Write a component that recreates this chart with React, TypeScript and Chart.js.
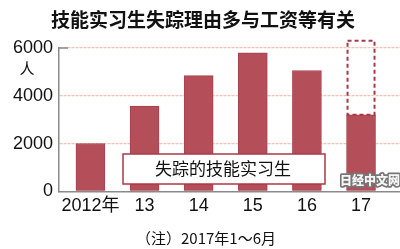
import React, { useEffect, useRef } from "react";
import { Chart, registerables } from "chart.js";

Chart.register(...registerables);

const title = "技能实习生失踪理由多与工资等有关";
const xLabels = ["2012年", "13", "14", "15", "16", "17"];
const missing = [2005, 3566, 4847, 5803, 5058, 3205];
const projectedTop = [null, null, null, null, null, 6300];
const yTicks = [0, 2000, 4000, 6000];
const unitLabel = "人";
const legendLabel = "失踪的技能实习生";
const footnote = "（注）2017年1～6月";
const watermark = "日经中文网";

const BAR = "#b44e58";
const DARK_RED = "#a83a48";
const AXIS = "#8a8a8a";
const GRID = "#eec4b4";

const overlay = {
  id: "overlay",
  afterDraw(chart: any) {
    const ctx = chart.ctx;
    const y = chart.scales.y;
    const area = chart.chartArea;
    ctx.save();
    ctx.fillStyle = "#111";
    ctx.font = "bold 19px 'Noto Sans CJK SC'";
    ctx.textAlign = "center";
    ctx.textBaseline = "middle";
    ctx.fillText(title, 203, 20);
    ctx.font = "15px 'Noto Sans CJK SC'";
    ctx.fillText(unitLabel, 27, 68);
    ctx.strokeStyle = AXIS;
    ctx.lineWidth = 1.5;
    ctx.beginPath();
    ctx.moveTo(area.left, y.getPixelForValue(yTicks[yTicks.length - 1]));
    ctx.lineTo(area.left + 9, y.getPixelForValue(yTicks[yTicks.length - 1]));
    ctx.stroke();
    ctx.strokeStyle = DARK_RED;
    ctx.lineWidth = 2;
    ctx.setLineDash([4, 3]);
    const meta = chart.getDatasetMeta(0);
    projectedTop.forEach((v, i) => {
      if (v == null) return;
      const bar = meta.data[i];
      const half = bar.width / 2;
      const top = y.getPixelForValue(v);
      const bottom = y.getPixelForValue(missing[i]);
      ctx.strokeRect(bar.x - half + 1, top, bar.width - 2, bottom - top);
    });
    ctx.setLineDash([]);
    ctx.fillStyle = "#fff";
    ctx.fillRect(123, 154, 202, 30);
    ctx.strokeStyle = DARK_RED;
    ctx.lineWidth = 1.5;
    ctx.strokeRect(123, 154, 202, 30);
    ctx.fillStyle = "#111";
    ctx.font = "17px 'Noto Sans CJK SC'";
    ctx.fillText(legendLabel, 223, 169);
    ctx.font = "900 12px 'Noto Sans CJK SC'";
    ctx.lineJoin = "round";
    ctx.lineWidth = 3.5;
    ctx.strokeStyle = "#777";
    ctx.strokeText(watermark, 370, 180);
    ctx.fillStyle = "#f6f6f6";
    ctx.fillText(watermark, 370, 180);
    ctx.fillStyle = "#111";
    ctx.font = "15px 'Noto Sans CJK SC'";
    ctx.fillText(footnote, 206, 238);
    ctx.restore();
  },
};

export default function App() {
  const ref = useRef<HTMLCanvasElement>(null);
  useEffect(() => {
    document.body.style.margin = "0";
    const chart = new Chart(ref.current!, {
      type: "bar",
      data: {
        datasets: [
          {
            data: missing.map((v, i) => ({ x: i, y: v })),
            backgroundColor: BAR,
            borderColor: "#a6434e",
            borderWidth: 1,
            barThickness: 29,
          },
        ],
      },
      options: {
        responsive: false,
        animation: false,
        devicePixelRatio: 1,
        layout: { padding: { left: 7, top: 48, right: 0, bottom: 28 } },
        plugins: { legend: { display: false }, tooltip: { enabled: false } },
        scales: {
          x: {
            type: "linear",
            offset: false,
            min: -0.58,
            max: 5.72,
            afterBuildTicks: (axis: any) => {
              axis.ticks = xLabels.map((_, i) => ({ value: i }));
            },
            ticks: {
              autoSkip: false,
              maxRotation: 0,
              padding: 4,
              color: "#111",
              font: { family: "'Liberation Sans', 'Noto Sans CJK SC'", size: 18 },
              callback: (v: any) => xLabels[v as number],
            },
            grid: { display: false, drawTicks: false },
            border: { display: true, color: AXIS, width: 1.5 },
          },
          y: {
            min: 0,
            max: 6000,
            afterBuildTicks: (axis: any) => {
              axis.ticks = yTicks.map((v) => ({ value: v }));
            },
            ticks: {
              padding: 6,
              color: "#111",
              font: { family: "'Liberation Sans'", size: 18 },
              callback: (v: any) => String(v),
            },
            grid: {
              drawTicks: false,
              color: (c: any) => (c.tick && c.tick.value === 0 ? "rgba(0,0,0,0)" : GRID),
              lineWidth: 1.2,
            },
            border: { display: true, color: AXIS, width: 1.5, dash: [3, 1] },
          },
        },
      },
      plugins: [overlay],
    });
    return () => chart.destroy();
  }, []);
  return <canvas ref={ref} width={400} height={249} style={{ display: "block" }} />;
}
